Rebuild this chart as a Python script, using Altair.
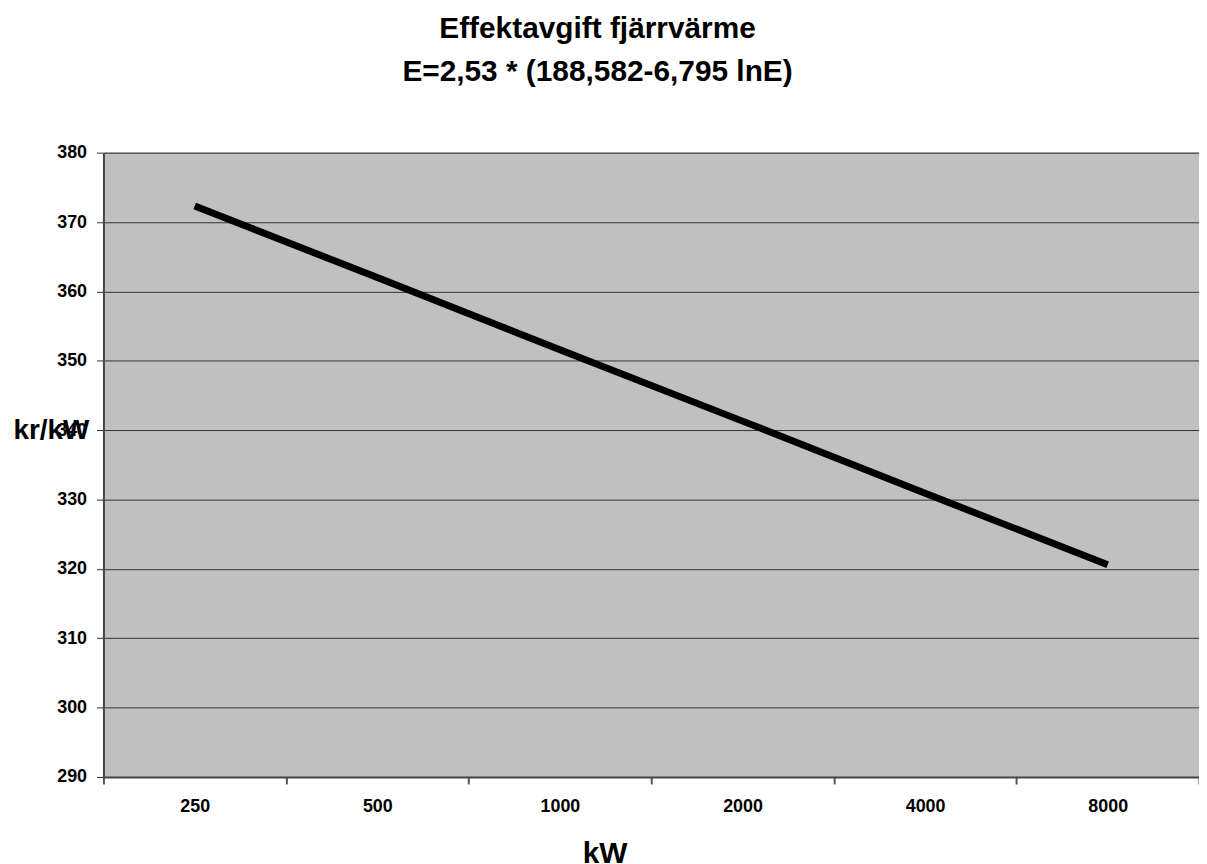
import altair as alt
import pandas as pd

categories = ["250", "500", "1000", "2000", "4000", "8000"]
values = [372.3, 362.0, 351.6, 341.3, 330.9, 320.6]
y_ticks = [290, 300, 310, 320, 330, 340, 350, 360, 370, 380]

df = pd.DataFrame({"kW": categories, "krkW": values})

FONT = "Liberation Sans"

line = alt.Chart(df).mark_line(color="black", strokeWidth=7, strokeCap="butt").encode(
    x=alt.X(
        "kW:N",
        sort=categories,
        bandPosition=0.5,
        scale=alt.Scale(type="band", paddingInner=0, paddingOuter=0),
        axis=alt.Axis(
            title="kW",
            titleFont=FONT,
            titleFontSize=30,
            titleFontWeight="bold",
            titleColor="black",
            titleX=504,
            titleY=62,
            titleBaseline="top",
            titleAnchor="start",
            titleAlign="center",
            labelFont=FONT,
            labelFontSize=18,
            labelFontWeight="bold",
            labelColor="black",
            labelAngle=0,
            labelPadding=14,
            tickBand="extent",
            tickSize=7,
            tickColor="#555555",
            tickWidth=2,
            domainColor="#444444",
            domainWidth=2,
            grid=False,
        ),
    ),
    y=alt.Y(
        "krkW:Q",
        scale=alt.Scale(domain=[290, 380], nice=False, zero=False),
        axis=alt.Axis(
            values=y_ticks,
            title="kr/kW",
            titleFont=FONT,
            titleFontSize=28,
            titleFontWeight="bold",
            titleColor="black",
            titleAngle=0,
            titleAlign="left",
            titleBaseline="middle",
            titleX=-91,
            titleY=280,
            labelFont=FONT,
            labelFontSize=18,
            labelFontWeight="bold",
            labelColor="black",
            labelPadding=10,
            tickSize=7,
            tickColor="#333333",
            tickWidth=1,
            domainColor="#444444",
            domainWidth=2,
            grid=True,
            gridColor="#333333",
            gridWidth=1,
            gridOpacity=1,
        ),
    ),
)

chart = line.properties(
    width=1102,
    height=628,
    autosize=alt.AutoSizeParams(type="none"),
    padding={"left": 96, "top": 143, "right": 0, "bottom": 85},
    background="white",
    title=alt.TitleParams(
        text=["Effektavgift fjärrvärme", "E=2,53 * (188,582-6,795 lnE)"],
        font=FONT,
        fontSize=30,
        fontWeight="bold",
        color="black",
        anchor="middle",
        dx=-54,
        offset=57,
        lineHeight=43,
    ),
).configure_view(
    fill="#C0C0C0",
    stroke="#888888",
    strokeWidth=1,
)

chart.save("out.html", embed_options={"renderer": "svg", "actions": False})
